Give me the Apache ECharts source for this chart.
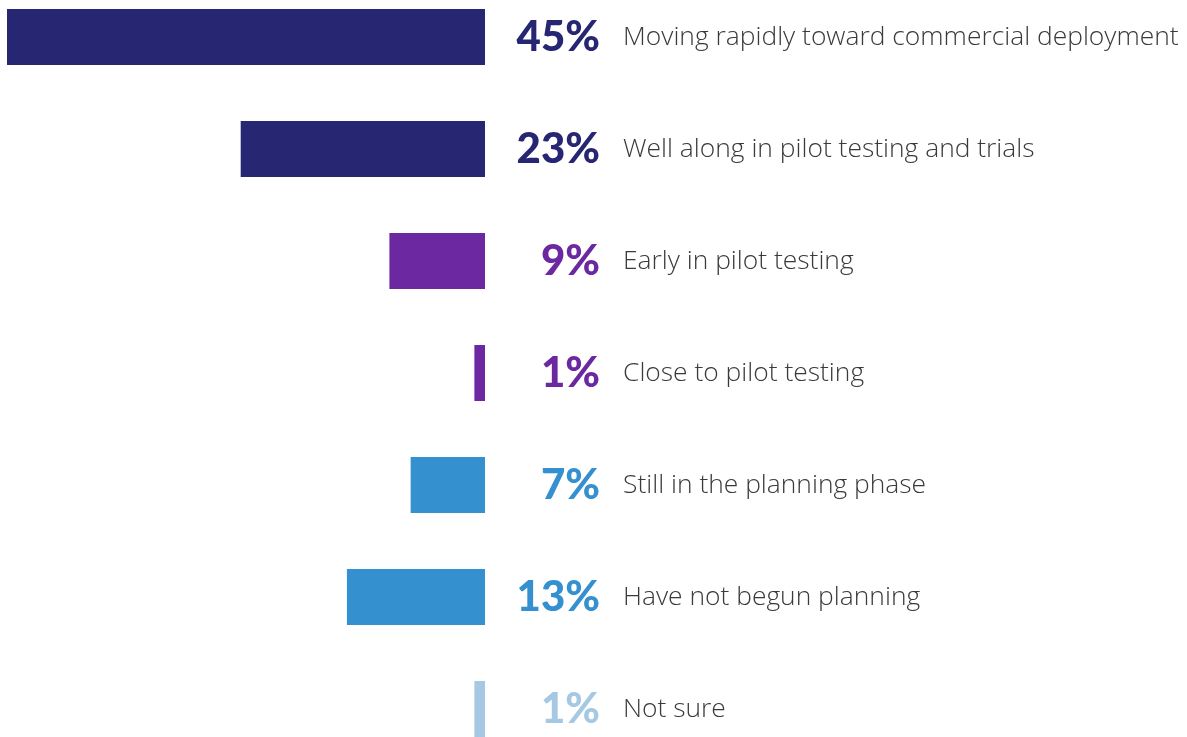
<!DOCTYPE html>
<html>
<head>
<meta charset="utf-8">
<script src="https://cdn.jsdelivr.net/npm/echarts@6/dist/echarts.min.js"></script>
<style>
html, body { margin: 0; padding: 0; background: #fff; overflow: hidden; }
#main { position: absolute; left: 0; top: -19px; width: 1187px; height: 784px; }
</style>
</head>
<body>
<div id="main"></div>
<script>
var stages = ['Moving rapidly toward commercial deployment', 'Well along in pilot testing and trials',
    'Early in pilot testing', 'Close to pilot testing', 'Still in the planning phase',
    'Have not begun planning', 'Not sure'];
var shares = [45, 23, 9, 1, 7, 13, 1];
var colors = ['#262673', '#262673', '#6b28a0', '#6b28a0', '#3590d0', '#3590d0', '#a5c8e3'];

// one rich style per row so each percentage takes its bar colour
var pctRich = {};
colors.forEach(function(c, i) {
    pctRich['p' + i] = { fontFamily: 'Lato', fontWeight: 900, fontSize: 42, color: c };
});

var myChart = echarts.init(document.getElementById('main'));
var option = {
    animation: false,
    grid: { left: 7, right: 702, top: 0, bottom: 0 },
    xAxis: {
        type: 'value',
        min: 0,
        max: 45,
        inverse: true,
        show: false
    },
    yAxis: [{
        type: 'category',
        data: stages,
        inverse: true,
        position: 'right',
        axisLine: { show: false },
        axisTick: { show: false },
        axisLabel: {
            margin: 115,
            align: 'right',
            rich: pctRich,
            formatter: function(value, index) {
                return '{p' + index + '|' + shares[index] + '%}';
            }
        }
    }, {
        type: 'category',
        data: stages,
        inverse: true,
        position: 'right',
        axisLine: { show: false },
        axisTick: { show: false },
        axisLabel: {
            margin: 138,
            align: 'left',
            fontFamily: 'Open Sans',
            fontWeight: 300,
            fontSize: 26.4,
            color: '#3a3a3a'
        }
    }],
    series: [{
        type: 'bar',
        yAxisIndex: 0,
        barWidth: 56,
        data: shares.map(function(v, i) {
            return { value: v, itemStyle: { color: colors[i] } };
        })
    }]
};
myChart.setOption(option);
</script>
</body>
</html>
